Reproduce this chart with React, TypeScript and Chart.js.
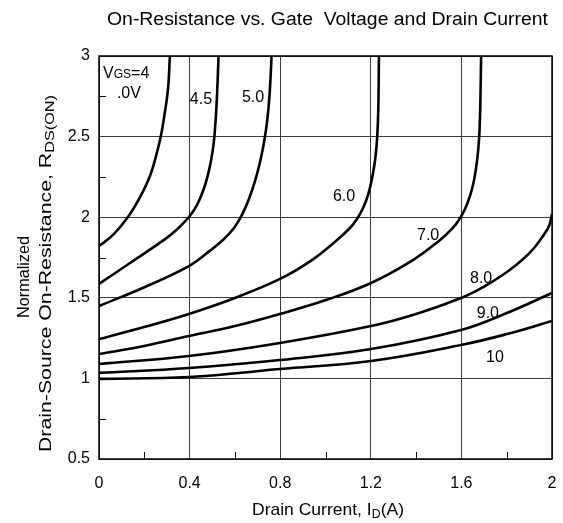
import React, { useEffect, useRef } from "react";
import { Chart, registerables } from "chart.js";

Chart.register(...registerables);

// ---- data: drain current (A) vs normalized RDS(ON) ----
const vgs40X = [0, 0.062, 0.128, 0.177, 0.225, 0.252, 0.274, 0.291, 0.305, 0.313];
const vgs40Y = [1.821, 1.89, 2.001, 2.113, 2.256, 2.38, 2.51, 2.653, 2.801, 3.0];

const vgs45X = [0, 0.137, 0.287, 0.344, 0.397, 0.433, 0.464, 0.486, 0.501, 0.51, 0.519, 0.528];
const vgs45Y = [1.586, 1.716, 1.859, 1.924, 2.001, 2.076, 2.181, 2.293, 2.404, 2.51, 2.696, 3.0];

const vgs50X = [0, 0.203, 0.397, 0.477, 0.547, 0.596, 0.631, 0.662, 0.689, 0.711, 0.728, 0.742, 0.753, 0.762];
const vgs50Y = [1.449, 1.567, 1.697, 1.778, 1.859, 1.933, 2.014, 2.113, 2.225, 2.342, 2.46, 2.591, 2.758, 3.0];

const vgs60X = [0, 0.199, 0.397, 0.6, 0.799, 0.94, 1.051, 1.108, 1.139, 1.166, 1.188, 1.205, 1.219, 1.228, 1.233, 1.236];
const vgs60Y = [1.244, 1.319, 1.4, 1.499, 1.617, 1.734, 1.859, 1.933, 1.989, 2.057, 2.138, 2.237, 2.355, 2.491, 2.665, 3.0];

const vgs70X = [0, 0.199, 0.397, 0.6, 0.799, 1.002, 1.201, 1.386, 1.506, 1.558, 1.589, 1.616, 1.638, 1.656, 1.669, 1.678, 1.683, 1.687];
const vgs70Y = [1.151, 1.201, 1.263, 1.325, 1.4, 1.486, 1.592, 1.734, 1.859, 1.927, 1.983, 2.051, 2.132, 2.231, 2.349, 2.485, 2.665, 3.0];

const vgs80X = [0, 0.397, 0.799, 1.201, 1.4, 1.598, 1.704, 1.801, 1.868, 1.921, 1.96, 1.987, 2.0];
const vgs80Y = [1.089, 1.139, 1.22, 1.325, 1.4, 1.499, 1.573, 1.66, 1.734, 1.809, 1.883, 1.945, 2.02];

const vgs90X = [0, 0.397, 0.799, 1.201, 1.598, 1.801, 2.0];
const vgs90Y = [1.034, 1.065, 1.114, 1.182, 1.3, 1.406, 1.53];

const vgs10X = [0, 0.397, 0.799, 1.201, 1.598, 1.801, 2.0];
const vgs10Y = [0.997, 1.009, 1.058, 1.108, 1.207, 1.275, 1.356];

const seriesX = [vgs40X, vgs45X, vgs50X, vgs60X, vgs70X, vgs80X, vgs90X, vgs10X];
const seriesY = [vgs40Y, vgs45Y, vgs50Y, vgs60Y, vgs70Y, vgs80Y, vgs90Y, vgs10Y];
const seriesNames = ["4.0", "4.5", "5.0", "6.0", "7.0", "8.0", "9.0", "10"];

// curve labels (centre positions in data units)
const curveLabelText = ["4.5", "5.0", "6.0", "7.0", "8.0", "9.0", "10"];
const curveLabelX = [0.45, 0.68, 1.082, 1.453, 1.687, 1.717, 1.748];
const curveLabelY = [2.74, 2.75, 2.138, 1.896, 1.629, 1.412, 1.139];

const xTickValues = [0, 0.4, 0.8, 1.2, 1.6, 2];
const yTickValues = [0.5, 1, 1.5, 2, 2.5, 3];
const xMinorTicks = [0.2, 0.6, 1.0, 1.4, 1.8];
const yMinorTicks = [0.75, 1.25, 1.75, 2.25, 2.75];

const titleText = "On-Resistance vs. Gate  Voltage and Drain Current";

const FONT = "'Liberation Sans', Arial, Helvetica, sans-serif";

type Part = [string, number, number];

function drawRich(
  ctx: CanvasRenderingContext2D,
  parts: Part[],
  x: number,
  y: number,
  align: "left" | "center",
  fitWidth?: number
) {
  let total = 0;
  const widths = parts.map(([t, s]) => {
    ctx.font = `${s}px ${FONT}`;
    const w = ctx.measureText(t).width;
    total += w;
    return w;
  });
  const sx = fitWidth ? fitWidth / total : 1;
  ctx.save();
  ctx.translate(x, y);
  ctx.scale(sx, 1);
  let cx = align === "center" ? -total / 2 : 0;
  ctx.textAlign = "left";
  ctx.textBaseline = "alphabetic";
  parts.forEach(([t, s, dy], i) => {
    ctx.font = `${s}px ${FONT}`;
    ctx.fillText(t, cx, dy);
    cx += widths[i];
  });
  ctx.restore();
}

const decorPlugin = {
  id: "decor",
  afterDraw(chart: any) {
    const { ctx, chartArea, scales } = chart;
    const xs = scales.x;
    const ys = scales.y;
    ctx.save();
    ctx.fillStyle = "#000";
    ctx.strokeStyle = "#000";

    // minor ticks, inward
    ctx.lineWidth = 1;
    ctx.beginPath();
    xMinorTicks.forEach((v) => {
      const px = Math.round(xs.getPixelForValue(v)) + 0.5;
      ctx.moveTo(px, chartArea.bottom);
      ctx.lineTo(px, chartArea.bottom - 7);
    });
    yMinorTicks.forEach((v) => {
      const py = Math.round(ys.getPixelForValue(v)) + 0.5;
      ctx.moveTo(chartArea.left, py);
      ctx.lineTo(chartArea.left + 7, py);
    });
    ctx.stroke();

    // frame
    ctx.lineWidth = 1.5;
    ctx.strokeRect(chartArea.left, chartArea.top, chartArea.right - chartArea.left, chartArea.bottom - chartArea.top);

    // curve labels
    curveLabelText.forEach((t, i) => {
      const px = xs.getPixelForValue(curveLabelX[i]);
      const py = ys.getPixelForValue(curveLabelY[i]);
      drawRich(ctx, [[t, 16, 0]], px, py + 5.8, "center");
    });
    // VGS label
    {
      const px = xs.getPixelForValue(0.018);
      const py = ys.getPixelForValue(2.9);
      drawRich(ctx, [["V", 16, 0], ["GS", 12, 0], ["=4", 16, 0]], px, py + 5.8, "left");
      const px2 = xs.getPixelForValue(0.079);
      const py2 = ys.getPixelForValue(2.777);
      drawRich(ctx, [[".0V", 16, 0]], px2, py2 + 5.8, "left");
    }

    // title
    drawRich(ctx, [[titleText, 18, 0]], 327.5, 25, "center", 441);

    // x axis title
    drawRich(ctx, [["Drain Current, I", 17, 0], ["D", 12, 3], ["(A)", 17, 0]], 328, 515, "center", 152);

    // y axis title (rotated)
    ctx.save();
    ctx.translate(29, 277);
    ctx.rotate(-Math.PI / 2);
    drawRich(ctx, [["Normalized", 17, 0]], 0, 0, "center", 82);
    ctx.restore();
    ctx.save();
    ctx.translate(51, 273.5);
    ctx.rotate(-Math.PI / 2);
    drawRich(ctx, [["Drain-Source On-Resistance, R", 17, 0], ["DS(ON)", 13, 3]], 0, 0, "center", 357);
    ctx.restore();

    ctx.restore();
  },
};

export default function App() {
  const ref = useRef<HTMLCanvasElement | null>(null);
  useEffect(() => {
    document.body.style.margin = "0";
    const canvas = ref.current;
    if (!canvas) return;
    const datasets = seriesX.map((xsArr, i) => ({
      label: seriesNames[i],
      data: xsArr.map((x, j) => ({ x, y: seriesY[i][j] })),
      borderColor: "#000",
      borderWidth: 2.6,
      pointRadius: 0,
      fill: false,
      tension: 0.4,
    }));
    const chart = new Chart(canvas, {
      type: "line",
      data: { datasets },
      options: {
        animation: false,
        responsive: false,
        devicePixelRatio: 1,
        layout: { padding: { left: 0, top: 56, right: 11, bottom: 0 } },
        plugins: { legend: { display: false }, tooltip: { enabled: false }, title: { display: false } },
        scales: {
          x: {
            type: "linear",
            min: 0,
            max: 2,
            afterBuildTicks: (s: any) => {
              s.ticks = xTickValues.map((v) => ({ value: v }));
            },
            afterFit: (s: any) => {
              s.height = 64;
              s.paddingLeft = 0;
              s.paddingRight = 0;
            },
            ticks: {
              color: "#000",
              font: { size: 16, family: FONT },
              padding: 15,
              maxRotation: 0,
              autoSkip: false,
              callback: (v: any) => String(Number(Number(v).toFixed(1))),
            },
            grid: { color: "#3a3a3a", lineWidth: 1, drawTicks: false },
            border: { display: false },
          },
          y: {
            type: "linear",
            min: 0.5,
            max: 3,
            afterBuildTicks: (s: any) => {
              s.ticks = yTickValues.map((v) => ({ value: v }));
            },
            afterFit: (s: any) => {
              s.width = 99;
              s.paddingTop = 0;
              s.paddingBottom = 0;
            },
            ticks: {
              color: "#000",
              font: { size: 16, family: FONT },
              padding: 9,
              autoSkip: false,
              callback: (v: any) => String(Number(Number(v).toFixed(1))),
            },
            grid: { color: "#3a3a3a", lineWidth: 1, drawTicks: false },
            border: { display: false },
          },
        },
      },
      plugins: [decorPlugin],
    });
    return () => chart.destroy();
  }, []);
  return (
    <div style={{ width: 563, height: 523, background: "#fff" }}>
      <canvas ref={ref} width={563} height={523} style={{ display: "block" }} />
    </div>
  );
}
